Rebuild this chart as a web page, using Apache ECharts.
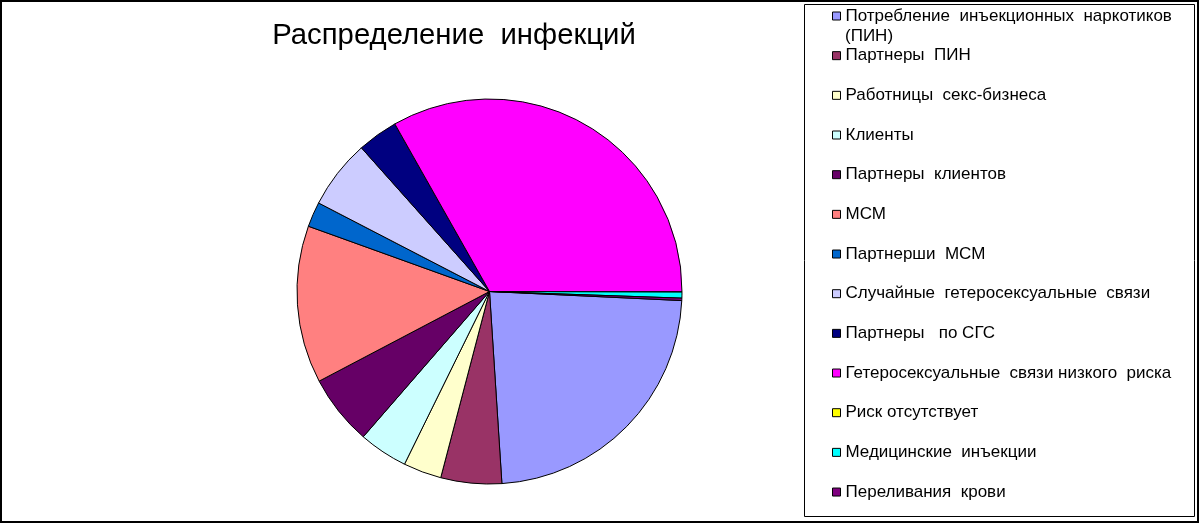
<!DOCTYPE html>
<html>
<head>
<meta charset="utf-8">
<script src="https://cdn.jsdelivr.net/npm/echarts@6.0.0/dist/echarts.min.js"></script>
<style>
  html, body { margin: 0; padding: 0; background: #fff; }
  #chart { width: 1200px; height: 524px; }
</style>
</head>
<body>
<div id="chart"></div>
<script>
// категории (порядок как в легенде, по часовой стрелке)
var categories = [
  'Потребление  инъекционных  наркотиков',
  'Партнеры  ПИН',
  'Работницы  секс-бизнеса',
  'Клиенты',
  'Партнеры  клиентов',
  'МСМ',
  'Партнерши  МСМ',
  'Случайные  гетеросексуальные  связи',
  'Партнеры   по СГС',
  'Гетеросексуальные  связи низкого  риска',
  'Риск отсутствует',
  'Медицинские  инъекции',
  'Переливания  крови'
];
// доли, %
var shares = [23.2, 5.1, 3.2, 4.1, 5.9, 13.2, 2.1, 5.8, 3.4, 33.2, 0, 0.5, 0.2];
var palette = ['#9999FF', '#993366', '#FFFFCC', '#CCFFFF', '#660066', '#FF8080',
  '#0066CC', '#CCCCFF', '#000080', '#FF00FF', '#FFFF00', '#00FFFF', '#800080'];

var font = '"Liberation Sans", Arial, sans-serif';
var myChart = echarts.init(document.getElementById('chart'));

var pieData = categories.map(function (name, i) {
  return { name: name, value: shares[i], itemStyle: { color: palette[i] } };
});

var option = {
  animation: false,
  backgroundColor: '#fff',
  title: {
    text: 'Распределение  инфекций',
    left: 454,
    top: 21,
    padding: 0,
    textAlign: 'center',
    textStyle: { fontFamily: font, fontSize: 29.3, fontWeight: 'normal', color: '#000' }
  },
  legend: {
    orient: 'vertical',
    left: 832,
    top: 6,
    padding: 0,
    itemWidth: 8,
    itemHeight: 8,
    itemGap: 19.67,
    icon: 'rect',
    selectedMode: false,
    itemStyle: { borderColor: '#000', borderWidth: 1 },
    textStyle: { fontFamily: font, fontSize: 17, lineHeight: 20, color: '#000' },
    data: categories
  },
  graphic: [
    { type: 'rect', silent: true, z: -1,
      shape: { x: 1, y: 1, width: 1197, height: 521 },
      style: { fill: 'none', stroke: '#000', lineWidth: 2 } },
    { type: 'rect', silent: true, z: -1,
      shape: { x: 804.5, y: 4.5, width: 390, height: 512 },
      style: { fill: 'none', stroke: '#000', lineWidth: 1 } },
    { type: 'text', silent: true, left: 845, top: 28,
      style: { text: '(ПИН)', font: '17px ' + font, fill: '#000' } }
  ],
  series: [{
    type: 'pie',
    center: [489.5, 291.5],
    radius: 192.5,
    startAngle: -2.7,
    clockwise: true,
    avoidLabelOverlap: false,
    label: { show: false },
    labelLine: { show: false },
    emphasis: { disabled: true },
    itemStyle: { borderColor: '#000', borderWidth: 1 },
    data: pieData
  }]
};
myChart.setOption(option);
</script>
</body>
</html>
